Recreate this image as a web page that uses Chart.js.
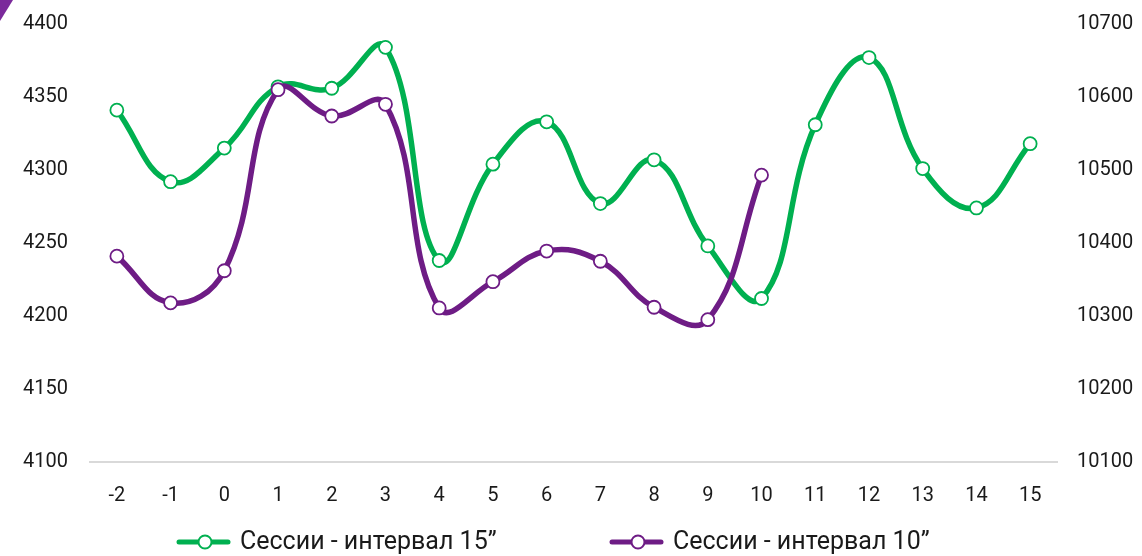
<!DOCTYPE html>
<html>
<head>
<meta charset="utf-8">
<script src="https://cdn.jsdelivr.net/npm/chart.js@4"></script>
<style>
html,body{margin:0;padding:0;background:#fff;}
#wrap{position:relative;width:1142px;height:556px;}
#corner{position:absolute;left:0;top:0;width:13px;height:21px;background:#7b2a9b;clip-path:polygon(0 0,100% 0,0 100%);}
</style>
</head>
<body>
<div id="wrap"><canvas id="c" width="1142" height="556"></canvas><div id="corner"></div></div>
<script>
const categories = ['-2','-1','0','1','2','3','4','5','6','7','8','9','10','11','12','13','14','15'];
const sessions15 = [4341, 4292, 4315, 4357, 4356, 4384, 4238, 4304, 4333, 4277, 4307, 4248, 4212, 4331, 4377, 4301, 4274, 4318];
const sessions10 = [10382, 10318, 10362, 10610, 10574, 10590, 10311, 10347, 10389, 10375, 10312, 10295, 10493, null, null, null, null, null];
const leftTicks = [4100, 4150, 4200, 4250, 4300, 4350, 4400];
const rightTicks = [10100, 10200, 10300, 10400, 10500, 10600, 10700];
const label15 = 'Сессии - интервал 15”';
const label10 = 'Сессии - интервал 10”';

const GREEN = '#00b050';
const PURPLE = '#6e1c85';
const FONT = 'Roboto';

const legendPlugin = {
  id: 'customLegend',
  afterDraw(chart) {
    const ctx = chart.ctx;
    const items = [
      {text: label15, color: GREEN, x: 177},
      {text: label10, color: PURPLE, x: 610}
    ];
    ctx.save();
    ctx.font = '25px ' + FONT;
    const y = 542;
    items.forEach((it) => {
      const x = it.x;
      ctx.strokeStyle = it.color;
      ctx.lineWidth = 5;
      ctx.lineCap = 'round';
      ctx.beginPath();
      ctx.moveTo(x + 2, y);
      ctx.lineTo(x + 51, y);
      ctx.stroke();
      ctx.beginPath();
      ctx.arc(x + 28, y, 6.5, 0, Math.PI * 2);
      ctx.fillStyle = '#fff';
      ctx.fill();
      ctx.lineWidth = 2;
      ctx.stroke();
      ctx.fillStyle = '#1a1a1a';
      ctx.textBaseline = 'middle';
      ctx.textAlign = 'left';
      ctx.fillText(it.text, x + 63, y + 1);
    });
    ctx.restore();
  }
};

const plain = v => String(v);
const noPad = s => { s.paddingTop = 0; s.paddingBottom = 0; };

new Chart(document.getElementById('c'), {
  type: 'line',
  data: {
    labels: categories,
    datasets: [
      {
        label: label15,
        data: sessions15,
        yAxisID: 'y',
        borderColor: GREEN,
        backgroundColor: '#fff',
        borderWidth: 5.5,
        pointRadius: 6.5,
        pointBorderWidth: 1.8,
        pointBackgroundColor: '#fff',
        pointBorderColor: GREEN,
        tension: 0.42,
        order: 2
      },
      {
        label: label10,
        data: sessions10,
        yAxisID: 'y1',
        borderColor: PURPLE,
        backgroundColor: '#fff',
        borderWidth: 5.5,
        pointRadius: 6.5,
        pointBorderWidth: 1.8,
        pointBackgroundColor: '#fff',
        pointBorderColor: PURPLE,
        tension: 0.42,
        order: 1
      }
    ]
  },
  options: {
    responsive: false,
    animation: false,
    layout: {padding: {top: 24, bottom: 44, left: 0, right: 0}},
    plugins: {legend: {display: false}, tooltip: {enabled: false}},
    scales: {
      x: {
        offset: true,
        grid: {display: false},
        border: {display: true, color: '#d9d9d9', width: 2},
        ticks: {color: '#1a1a1a', font: {family: FONT, size: 20}, padding: 14, maxRotation: 0, autoSkip: false},
        afterFit(s) { s.height = 50; s.paddingLeft = 0; s.paddingRight = 0; }
      },
      y: {
        position: 'left',
        min: 4100, max: 4400,
        afterBuildTicks(s) { s.ticks = leftTicks.map(v => ({value: v})); },
        grid: {display: false, drawTicks: false},
        border: {display: false},
        ticks: {color: '#1a1a1a', font: {family: FONT, size: 20}, padding: 22, callback: plain},
        afterFit(s) { s.width = 90; noPad(s); }
      },
      y1: {
        position: 'right',
        min: 10100, max: 10700,
        afterBuildTicks(s) { s.ticks = rightTicks.map(v => ({value: v})); },
        grid: {display: false, drawTicks: false},
        border: {display: false},
        ticks: {color: '#1a1a1a', font: {family: FONT, size: 20}, padding: 20, callback: plain},
        afterFit(s) { s.width = 85; noPad(s); }
      }
    }
  },
  plugins: [legendPlugin]
});
</script>
</body>
</html>
